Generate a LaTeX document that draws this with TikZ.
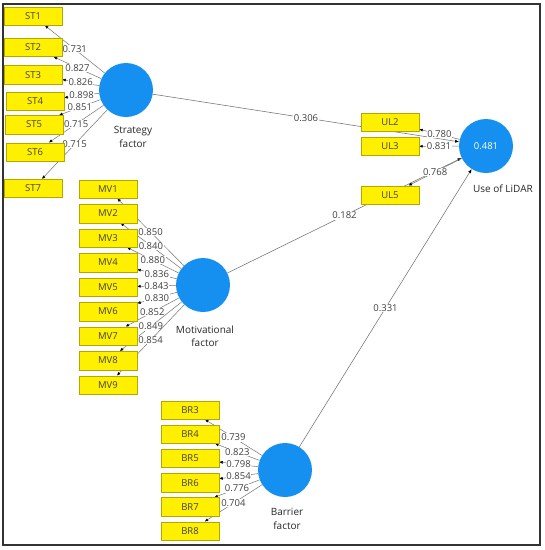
\documentclass[tikz,border=0pt]{standalone}
\usepackage{fontspec}
\setmainfont{Open Sans}
\usetikzlibrary{arrows.meta, positioning, backgrounds}
\definecolor{plsblue}{RGB}{22,144,240}
\definecolor{plsyellow}{RGB}{255,240,0}
\tikzset{
  indicator/.style={
    rectangle, draw=plsyellow!70!black, fill=plsyellow, line width=0.4pt,
    minimum width=58pt, minimum height=18.5pt, inner sep=1pt,
    font=\fontsize{9.5}{10}\selectfont, text=black!75
  },
  construct/.style={
    circle, fill=plsblue, draw=none, minimum size=54pt, inner sep=0pt,
    font=\fontsize{9.5}{10}\selectfont, text=white
  },
  clabel/.style={align=center, font=\fontsize{10}{13.5}\selectfont, text=black!85},
  coef/.style={fill=white, inner sep=0.6pt, font=\fontsize{9.5}{10}\selectfont, text=black!75},
  loading/.style={-{Latex[length=3.5pt,width=3pt,color=black]}, draw=black!55, line width=0.5pt},
  pathline/.style={-{Latex[length=4pt,width=3.2pt,color=black]}, draw=black!55, line width=0.55pt},
}
\begin{document}
\begin{tikzpicture}[x=1pt, y=-1pt]
    \useasboundingbox (0,0) rectangle (545,550);
    \draw[line width=1.2pt, draw=black!80] (3,4) rectangle (540,545);

    % constructs
    \node[construct] (sf) at (126,90) {};
    \node[construct] (mf) at (203,285) {};
    \node[construct] (bf) at (285,470) {};
    \node[construct] (ul) at (486,146) {0.481};
    \node[clabel] (sf-lbl) at (133,137) {Strategy\\factor};
    \node[clabel] (mf-lbl) at (205,336) {Motivational\\factor};
    \node[clabel] (bf-lbl) at (287,519) {Barrier\\factor};
    \node[clabel] (ul-lbl) at (503,189) {Use of LiDAR};

    % strategy indicators
    \node[indicator] (st1) at (33,16) {ST1};
    \node[indicator, below=12.5pt of st1] (st2) {ST2};
    \node[indicator, below=8.5pt of st2] (st3) {ST3};
    \node[indicator, below=7.5pt of st3, xshift=2pt] (st4) {ST4};
    \node[indicator, below=4.5pt of st4, xshift=-1pt] (st5) {ST5};
    \node[indicator, below=8.5pt of st5, xshift=1pt] (st6) {ST6};
    \node[indicator, below=17.5pt of st6, xshift=-2pt] (st7) {ST7};

    % motivational indicators
    \node[indicator] (mv1) at (108,189) {MV1};
    \node[indicator, below=5.6pt of mv1] (mv2) {MV2};
    \node[indicator, below=5.6pt of mv2] (mv3) {MV3};
    \node[indicator, below=5.6pt of mv3] (mv4) {MV4};
    \node[indicator, below=5.6pt of mv4] (mv5) {MV5};
    \node[indicator, below=5.6pt of mv5] (mv6) {MV6};
    \node[indicator, below=5.6pt of mv6] (mv7) {MV7};
    \node[indicator, below=5.6pt of mv7] (mv8) {MV8};
    \node[indicator, below=5.6pt of mv8] (mv9) {MV9};

    % barrier indicators
    \node[indicator] (br3) at (190,410) {BR3};
    \node[indicator, below=5.3pt of br3] (br4) {BR4};
    \node[indicator, below=5.3pt of br4] (br5) {BR5};
    \node[indicator, below=5.3pt of br5] (br6) {BR6};
    \node[indicator, below=5.3pt of br6] (br7) {BR7};
    \node[indicator, below=5.3pt of br7] (br8) {BR8};

    % use indicators
    \node[indicator] (ul2) at (390,122) {UL2};
    \node[indicator, below=5.5pt of ul2] (ul3) {UL3};
    \node[indicator] (ul5) at (390,195) {UL5};

    \begin{scope}[on background layer]
    % structural paths
    \draw[pathline] (sf) -- (ul) node[midway, coef] {0.306};
    \draw[pathline] (mf) -- (ul) node[midway, coef] {0.182};
    \draw[pathline] (bf) -- (ul) node[midway, coef] {0.331};

    % outer loadings
    \draw[loading] (sf) -- (st1) node[midway, coef] {0.731};
    \draw[loading] (sf) -- (st2) node[midway, coef] {0.827};
    \draw[loading] (sf) -- (st3) node[midway, coef] {0.826};
    \draw[loading] (sf) -- (st4) node[midway, coef] {0.898};
    \draw[loading] (sf) -- (st5) node[midway, coef] {0.851};
    \draw[loading] (sf) -- (st6) node[midway, coef] {0.715};
    \draw[loading] (sf) -- (st7) node[midway, coef] {0.715};

    \draw[loading] (mf) -- (mv1) node[midway, coef] {0.850};
    \draw[loading] (mf) -- (mv2) node[midway, coef] {0.840};
    \draw[loading] (mf) -- (mv3) node[midway, coef] {0.880};
    \draw[loading] (mf) -- (mv4) node[midway, coef] {0.836};
    \draw[loading] (mf) -- (mv5) node[midway, coef] {0.843};
    \draw[loading] (mf) -- (mv6) node[midway, coef] {0.830};
    \draw[loading] (mf) -- (mv7) node[midway, coef] {0.852};
    \draw[loading] (mf) -- (mv8) node[midway, coef] {0.849};
    \draw[loading] (mf) -- (mv9) node[midway, coef] {0.854};

    \draw[loading] (bf) -- (br3) node[midway, coef] {0.739};
    \draw[loading] (bf) -- (br4) node[midway, coef] {0.823};
    \draw[loading] (bf) -- (br5) node[midway, coef] {0.798};
    \draw[loading] (bf) -- (br6) node[midway, coef] {0.854};
    \draw[loading] (bf) -- (br7) node[midway, coef] {0.776};
    \draw[loading] (bf) -- (br8) node[midway, coef] {0.704};

    \draw[loading] (ul) -- (ul2) node[midway, coef] {0.780};
    \draw[loading] (ul) -- (ul3) node[midway, coef] {0.831};
    \draw[loading] (ul) -- (ul5) node[midway, coef] {0.768};
    \end{scope}
  \end{tikzpicture}
\end{document}
